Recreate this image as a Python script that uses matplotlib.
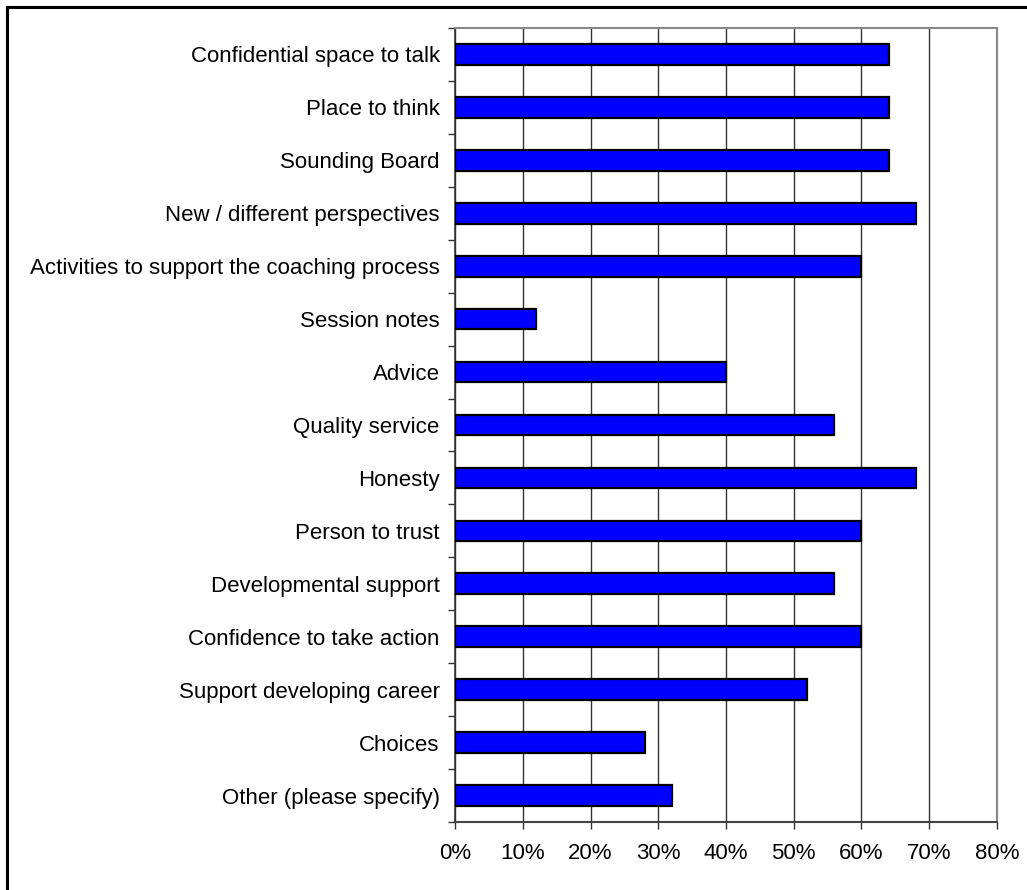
import matplotlib
matplotlib.use("Agg")
import matplotlib.pyplot as plt
from matplotlib.ticker import FixedLocator, PercentFormatter
from matplotlib.patches import Rectangle

plt.rcParams['font.family'] = ['Liberation Sans', 'DejaVu Sans']

categories = [
    "Confidential space to talk",
    "Place to think",
    "Sounding Board",
    "New / different perspectives",
    "Activities to support the coaching process",
    "Session notes",
    "Advice",
    "Quality service",
    "Honesty",
    "Person to trust",
    "Developmental support",
    "Confidence to take action",
    "Support developing career",
    "Choices",
    "Other (please specify)",
]
values = [64, 64, 64, 68, 60, 12, 40, 56, 68, 60, 56, 60, 52, 28, 32]
xticks = [0, 10, 20, 30, 40, 50, 60, 70, 80]

W, H = 1027, 890
fig = plt.figure(figsize=(W / 100, H / 100), dpi=100)
fig.patch.set_facecolor('white')

# outer frame (left/top visible)
fig.add_artist(Rectangle((7 / W, -0.01), 1.1, (H - 7) / H + 0.01, transform=fig.transFigure,
                         fill=False, edgecolor='black', linewidth=2.2))

left, right, top, bottom = 455, 997, 28, 822
ax = fig.add_axes([left / W, 1 - bottom / H, (right - left) / W, (bottom - top) / H])

n = len(categories)
ypos = list(range(n))
ax.barh(ypos, values, height=0.39, color='#0000FF', edgecolor='black', linewidth=1.6, zorder=3)

ax.set_xlim(0, 80)
ax.set_ylim(n - 0.5, -0.5)
ax.set_xticks(xticks)
ax.xaxis.set_major_formatter(PercentFormatter(decimals=0))
ax.set_yticks(ypos)
ax.set_yticklabels(categories)
ax.yaxis.set_minor_locator(FixedLocator([i - 0.5 for i in range(n + 1)]))
ax.tick_params(axis='y', which='major', length=0, pad=11, labelsize=16)
ax.tick_params(axis='y', which='minor', length=5, width=1, color='#333333', direction='out')
ax.tick_params(axis='x', which='major', length=5, width=1, color='#333333', direction='out', pad=10, labelsize=16)

ax.grid(axis='x', color='#333333', linewidth=1, zorder=0)
for s in ['top', 'right']:
    ax.spines[s].set_color('#888888')
    ax.spines[s].set_linewidth(1.5)
ax.spines['left'].set_color('#333333')
ax.spines['left'].set_linewidth(1.2)
ax.spines['bottom'].set_color('#444444')
ax.spines['bottom'].set_linewidth(1.5)

fig.savefig("out.png", dpi=100)
